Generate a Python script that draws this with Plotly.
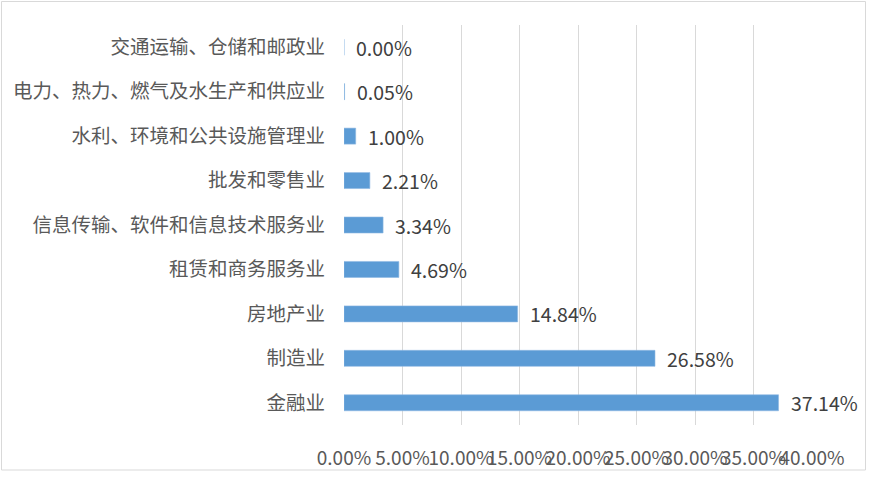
import plotly.graph_objects as go

categories = [
    "交通运输、仓储和邮政业",
    "电力、热力、燃气及水生产和供应业",
    "水利、环境和公共设施管理业",
    "批发和零售业",
    "信息传输、软件和信息技术服务业",
    "租赁和商务服务业",
    "房地产业",
    "制造业",
    "金融业",
]
values = [0.00, 0.05, 1.00, 2.21, 3.34, 4.69, 14.84, 26.58, 37.14]
x_ticks = [0, 5, 10, 15, 20, 25, 30, 35, 40]
x_tick_labels = [f"{t:.2f}%" for t in x_ticks]

W, H = 869, 477
L, R, T, B = 344, 57, 25, 52
FONT = "Noto Sans CJK SC"

fig = go.Figure()
fig.add_trace(go.Bar(
    y=categories,
    x=values,
    orientation="h",
    marker=dict(color="#5B9BD5", line=dict(color="#8FB8E3", width=0.6)),
    width=0.36,
    hoverinfo="skip",
))

for c, v in zip(categories, values):
    fig.add_annotation(
        x=v, y=c, xref="x", yref="y",
        text=f"{v:.2f}%", showarrow=False,
        xanchor="left", yanchor="middle", xshift=10,
        font=dict(family=FONT, size=19.5, color="#404040"),
    )

pw = W - L - R
ph = H - T - B
fig.add_shape(
    type="rect", xref="paper", yref="paper",
    x0=-(L - 1.5) / pw, x1=1 + (R - 3.5) / pw,
    y0=-(B - 7) / ph, y1=1 + (T - 1.5) / ph,
    line=dict(color="#D9D9D9", width=1), fillcolor="rgba(0,0,0,0)",
    layer="below",
)

fig.update_layout(
    width=W, height=H,
    margin=dict(l=L, r=R, t=T, b=B, autoexpand=False),
    paper_bgcolor="white", plot_bgcolor="white",
    showlegend=False,
    bargap=0.64,
    font=dict(family=FONT, color="#595959"),
    xaxis=dict(
        range=[0, 40], tickvals=x_ticks, ticktext=x_tick_labels,
        tickangle=0, showgrid=True, gridcolor="#D9D9D9", gridwidth=1,
        zeroline=False, showline=False, ticks="", automargin=False,
        tickfont=dict(family=FONT, size=19, color="#595959"),
        ticklabelstandoff=20, fixedrange=True,
    ),
    yaxis=dict(
        categoryorder="array", categoryarray=categories,
        autorange="reversed", showgrid=False, zeroline=False,
        showline=False, ticks="", ticklabelstandoff=18, automargin=False,
        tickfont=dict(family=FONT, size=19.5, color="#595959"),
        fixedrange=True,
    ),
)

fig.write_html(
    "out.html",
    config={"displayModeBar": False},
    post_script="document.body.style.margin='0';document.body.style.overflow='hidden';",
)
